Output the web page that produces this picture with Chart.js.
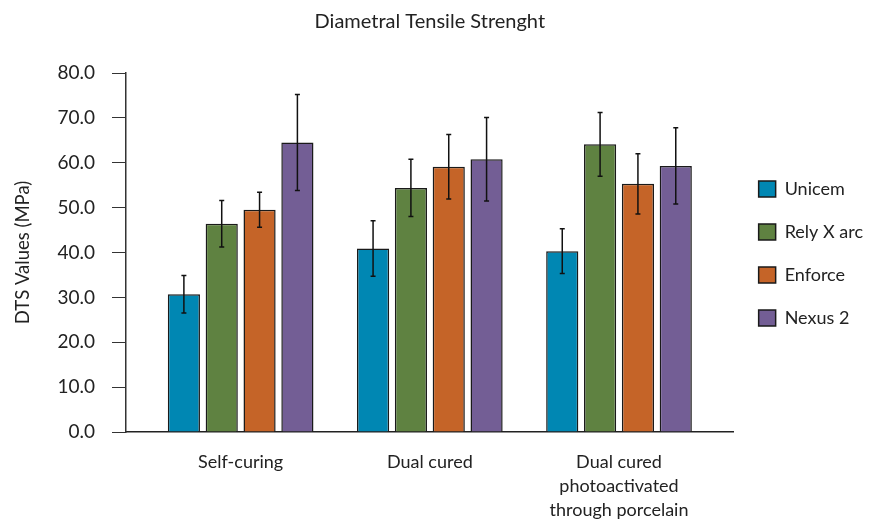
<!DOCTYPE html>
<html>
<head>
<meta charset="utf-8">
<script src="https://cdn.jsdelivr.net/npm/chart.js@4"></script>
<style>
html,body{margin:0;padding:0;background:#fff;}
#wrap{width:874px;height:521px;position:relative;}
</style>
</head>
<body>
<div id="wrap"><canvas id="c"></canvas></div>
<script>
const categories = ['Self-curing', 'Dual cured', ['Dual cured', 'photoactivated', 'through porcelain']];
const seriesNames = ['Unicem', 'Rely X arc', 'Enforce', 'Nexus 2'];
const unicem = [30.7, 40.9, 40.3];
const relyX = [46.4, 54.4, 64.1];
const enforce = [49.5, 59.1, 55.3];
const nexus = [64.5, 60.8, 59.3];
const unicemErr = [4.2, 6.2, 5.0];
const relyXErr = [5.2, 6.4, 7.1];
const enforceErr = [3.9, 7.2, 6.7];
const nexusErr = [10.7, 9.3, 8.5];
const yTicks = [0, 10, 20, 30, 40, 50, 60, 70, 80];
const colors = ['#0087B3', '#5F8241', '#C56428', '#735E95'];

const values = [unicem, relyX, enforce, nexus];
const errors = [unicemErr, relyXErr, enforceErr, nexusErr];

const FONT = 'Lato';

const errorBars = {
  id: 'errorBars',
  afterDatasetsDraw(chart) {
    const ctx = chart.ctx;
    const ys = chart.scales.y;
    ctx.save();
    ctx.strokeStyle = '#111';
    ctx.lineWidth = 1.5;
    chart.data.datasets.forEach((ds, i) => {
      const meta = chart.getDatasetMeta(i);
      meta.data.forEach((el, j) => {
        const v = values[i][j], e = errors[i][j];
        const x = el.x;
        const yt = ys.getPixelForValue(v + e);
        const yb = ys.getPixelForValue(v - e);
        ctx.beginPath();
        ctx.moveTo(x, yt); ctx.lineTo(x, yb);
        ctx.moveTo(x - 2.5, yt); ctx.lineTo(x + 2.5, yt);
        ctx.moveTo(x - 2.5, yb); ctx.lineTo(x + 2.5, yb);
        ctx.stroke();
      });
    });
    ctx.restore();
  }
};

const legendShift = {
  id: 'legendShift',
  afterLayout(chart) {
    if (chart.legend) {
      chart.legend.bottom -= 14;
      chart.legend.height -= 14;
    }
  }
};

new Chart(document.getElementById('c'), {
  type: 'bar',
  data: {
    datasets: values.map((arr, i) => ({
      label: seriesNames[i],
      data: arr.map((v, j) => ({x: j, y: v})),
      backgroundColor: colors[i],
      borderColor: '#1a1a1a',
      borderWidth: 1.5,
      categoryPercentage: 0.80,
      barPercentage: 0.85
    }))
  },
  options: {
    responsive: true,
    maintainAspectRatio: false,
    animation: false,
    layout: {padding: {left: 0, right: 1, top: 0, bottom: 0}},
    plugins: {
      title: {
        display: true,
        text: 'Diametral Tensile Strenght',
        fullSize: false,
        color: '#222',
        font: {family: FONT, size: 20, weight: 'normal', lineHeight: 1.2},
        padding: {top: 10, bottom: 39}
      },
      legend: {
        position: 'right',
        labels: {
          color: '#222',
          font: {family: FONT, size: 18},
          boxWidth: 17,
          boxHeight: 16,
          padding: 25
        }
      },
      tooltip: {enabled: false}
    },
    scales: {
      x: {
        type: 'linear',
        offset: false,
        min: -0.606,
        max: 2.606,
        afterBuildTicks(scale) {
          scale.ticks = categories.map((c, i) => ({value: i}));
        },
        afterFit(scale) { scale.height = 89; },
        grid: {display: false, drawTicks: false, offset: false},
        border: {display: true, color: '#222', width: 1.5},
        ticks: {
          autoSkip: false,
          maxRotation: 0,
          padding: 18,
          color: '#222',
          font: {family: FONT, size: 18, lineHeight: 1.34},
          callback: (v) => categories[v]
        }
      },
      y: {
        min: 0,
        max: 80,
        afterBuildTicks(scale) {
          scale.ticks = yTicks.map(v => ({value: v}));
        },
        afterFit(scale) { scale.width = 126; },
        grid: {display: true, drawOnChartArea: false, drawTicks: true, tickLength: 14, color: '#333', lineWidth: 1},
        border: {display: true, color: '#333', width: 1.5},
        ticks: {
          padding: 17,
          color: '#222',
          font: {family: FONT, size: 19},
          callback: (v) => v.toFixed(1)
        },
        title: {
          display: true,
          text: 'DTS Values (MPa)',
          color: '#222',
          font: {family: FONT, size: 18.5, lineHeight: 1.2},
          padding: {top: 12, bottom: 0}
        }
      }
    }
  },
  plugins: [errorBars, legendShift]
});
</script>
</body>
</html>
